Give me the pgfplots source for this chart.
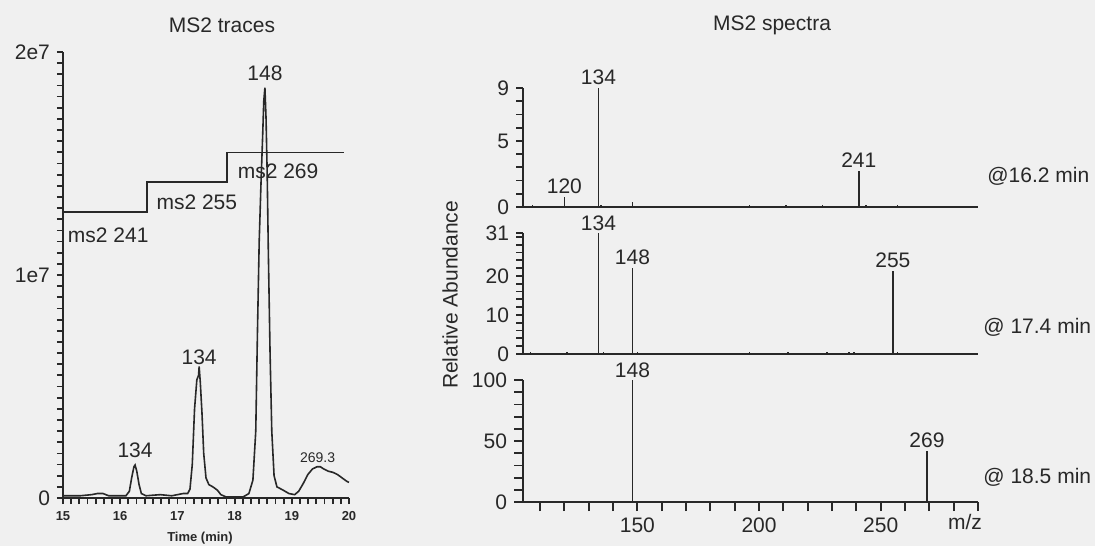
\documentclass[border=0pt]{standalone}
\usepackage{pgfplots}
\pgfplotsset{compat=1.18}
\usepackage{fontspec}
\setmainfont{Liberation Sans}

\definecolor{ink}{RGB}{40,40,40}
\definecolor{paper}{RGB}{240,240,240}

\newcommand{\lbl}{\fontsize{10.5}{12}\selectfont}
\newcommand{\smlbl}{\fontsize{6.5}{7.5}\selectfont\bfseries}

% series of the left panel (time in min, intensity in units of 1e7)
\pgfplotstableread{
t     I
15.00 0.01
15.30 0.01
15.50 0.015
15.60 0.02
15.70 0.02
15.80 0.01
16.10 0.01
16.16 0.03
16.20 0.09
16.24 0.14
16.26 0.148
16.29 0.12
16.33 0.06
16.37 0.02
16.45 0.01
16.70 0.015
16.90 0.01
17.10 0.02
17.18 0.02
17.22 0.04
17.26 0.15
17.30 0.40
17.34 0.53
17.37 0.55
17.38 0.59
17.40 0.52
17.43 0.38
17.46 0.20
17.50 0.09
17.55 0.06
17.62 0.05
17.70 0.035
17.76 0.015
17.85 0.005
18.15 0.005
18.25 0.02
18.32 0.08
18.37 0.30
18.40 0.75
18.43 1.15
18.46 1.40
18.49 1.62
18.51 1.78
18.53 1.84
18.55 1.70
18.57 1.45
18.59 1.10
18.62 0.65
18.65 0.30
18.69 0.10
18.74 0.05
18.85 0.035
18.95 0.02
19.05 0.015
19.12 0.03
19.20 0.065
19.28 0.105
19.36 0.13
19.44 0.14
19.50 0.14
19.56 0.13
19.64 0.12
19.72 0.115
19.80 0.105
19.88 0.09
19.96 0.075
20.00 0.07
}\trace

\pgfplotstableread{
t     I
15.00 1.283
16.47 1.283
16.47 1.417
17.87 1.417
17.87 1.55
19.92 1.55
}\segments

% spectra: m/z and relative abundance
\pgfplotstableread{
mz  a
105 0.10
107 0.12
109 0.10
120 0.75
134 9
135 0.15
148 0.35
195 0.10
196 0.12
211 0.12
213 0.10
226 0.15
241 2.7
244 0.12
257 0.15
}\specA

\pgfplotstableread{
mz  a
106 0.4
121 0.4
134 31
136 0.5
148 22
150 0.4
196 0.4
212 0.4
228 0.4
237 0.5
239 0.5
255 21.3
257 0.4
}\specB

\pgfplotstableread{
mz  a
105 0.6
107 0.6
119 0.8
134 0.6
148 100
150 0.8
165 0.6
195 0.6
196 0.8
228 0.6
240 0.8
241 0.6
253 0.8
254 0.8
269 42
271 0.6
}\specC

\pgfplotsset{
  frame/.style={scale only axis, anchor=south west, clip=false,
    axis x line*=bottom, axis y line*=left,
    axis line style={ink, line width=1pt},
    tick style={ink, line width=0.9pt}, tick align=outside,
    ticklabel style={text=ink},
    /pgf/number format/assume math mode=true},
  spec/.style={frame, width=227.5pt, xmin=103, xmax=290, ymin=0,
    major tick length=3.5pt,
    yticklabel style={font=\lbl}, xtick=\empty},
  stick/.style={ycomb, ink, line width=0.75pt, mark=none},
}

\begin{document}
\begin{tikzpicture}
\useasboundingbox (0,0) rectangle (547.5pt,273pt);
\fill[paper] (0,0) rectangle (547.5pt,273pt);

% left: MS2 traces
\begin{axis}[frame, at={(31.5pt,24pt)}, width=143pt, height=223pt,
  xmin=15, xmax=20, ymin=0, ymax=2,
  xtick={15,15.142857,15.285714,15.428571,15.571429,15.714286,15.857143,
    16,16.142857,16.285714,16.428571,16.571429,16.714286,16.857143,
    17,17.142857,17.285714,17.428571,17.571429,17.714286,17.857143,
    18,18.142857,18.285714,18.428571,18.571429,18.714286,18.857143,
    19,19.142857,19.285714,19.428571,19.571429,19.714286,19.857143,20},
  xticklabels={15,,,,,,,16,,,,,,,17,,,,,,,18,,,,,,,19,,,,,,,20},
  ytick={0,0.05,...,2.001},
  yticklabels={0,,,,,,,,,,,,,,,,,,,,1e7,,,,,,,,,,,,,,,,,,,,2e7},
  major tick length=3pt,
  xticklabel style={font=\smlbl},
  yticklabel style={font=\lbl}]
\addplot[ink, line width=0.8pt] table[x=t, y=I] {\trace};
\addplot[ink, line width=0.8pt] table[x=t, y=I] {\segments};
\node[font=\lbl, text=ink] at (axis cs:15.79,1.18) {ms2 241};
\node[font=\lbl, text=ink] at (axis cs:17.34,1.327) {ms2 255};
\node[font=\lbl, text=ink] at (axis cs:18.76,1.466) {ms2 269};
\node[font=\lbl, text=ink] at (axis cs:18.53,1.906) {148};
\node[font=\lbl, text=ink] at (axis cs:17.38,0.63) {134};
\node[font=\lbl, text=ink] at (axis cs:16.26,0.215) {134};
\node[font=\fontsize{7}{8}\selectfont, text=ink] at (axis cs:19.45,0.18) {269.3};
\end{axis}

% right: MS2 spectra, three stacked panels
\begin{axis}[spec, at={(261.5pt,169.5pt)}, height=59.5pt, ymax=9,
  ytick={0,1,...,9}, yticklabels={0,,,,,5,,,,9}]
\addplot[stick] table[x=mz, y=a] {\specA};
\node[font=\lbl, text=ink, above, inner sep=1.5pt] at (axis cs:134,9) {134};
\node[font=\lbl, text=ink, above, inner sep=1.5pt] at (axis cs:120,0.75) {120};
\node[font=\lbl, text=ink, above, inner sep=1.5pt] at (axis cs:241,2.7) {241};
\end{axis}

\begin{axis}[spec, at={(261.5pt,96pt)}, height=60.5pt, ymax=31,
  ytick={0,2,...,30,31}, yticklabels={0,,,,,10,,,,,20,,,,,,31}]
\addplot[stick] table[x=mz, y=a] {\specB};
\node[font=\lbl, text=ink, above, inner sep=1pt] at (axis cs:134,31) {134};
\node[font=\lbl, text=ink, above, inner sep=1.5pt] at (axis cs:148,22) {148};
\node[font=\lbl, text=ink, above, inner sep=1.5pt] at (axis cs:255,21.3) {255};
\end{axis}

\begin{axis}[spec, at={(261.5pt,22pt)}, height=61pt, ymax=100,
  ytick={0,10,...,100}, yticklabels={0,,,,,50,,,,,100},
  xtick={110,120,...,290}, xticklabels={,,,,150,,,,,200,,,,,250,,,,},
  major tick length=4.5pt,
  xticklabel style={font=\lbl}]
\addplot[stick] table[x=mz, y=a] {\specC};
\node[font=\lbl, text=ink, above, inner sep=1pt] at (axis cs:148,100) {148};
\node[font=\lbl, text=ink, above, inner sep=1.5pt] at (axis cs:269,42) {269};
\end{axis}

% titles and side labels
\node[font=\lbl, text=ink] at (111pt,260.5pt) {MS2 traces};
\node[font=\lbl, text=ink] at (386pt,260.5pt) {MS2 spectra};
\node[font=\lbl, text=ink, rotate=90] at (225pt,125.5pt) {Relative Abundance};
\node[font=\lbl, text=ink] at (482.5pt,12pt) {m/z};
\node[font=\smlbl, text=ink] at (100pt,4pt) {Time (min)};
\node[font=\lbl, text=ink, anchor=west, inner sep=0pt] at (493.5pt,185pt) {@16.2 min};
\node[font=\lbl, text=ink, anchor=west, inner sep=0pt] at (491.5pt,109.5pt) {@ 17.4 min};
\node[font=\lbl, text=ink, anchor=west, inner sep=0pt] at (491.5pt,34.5pt) {@ 18.5 min};
\end{tikzpicture}
\end{document}
